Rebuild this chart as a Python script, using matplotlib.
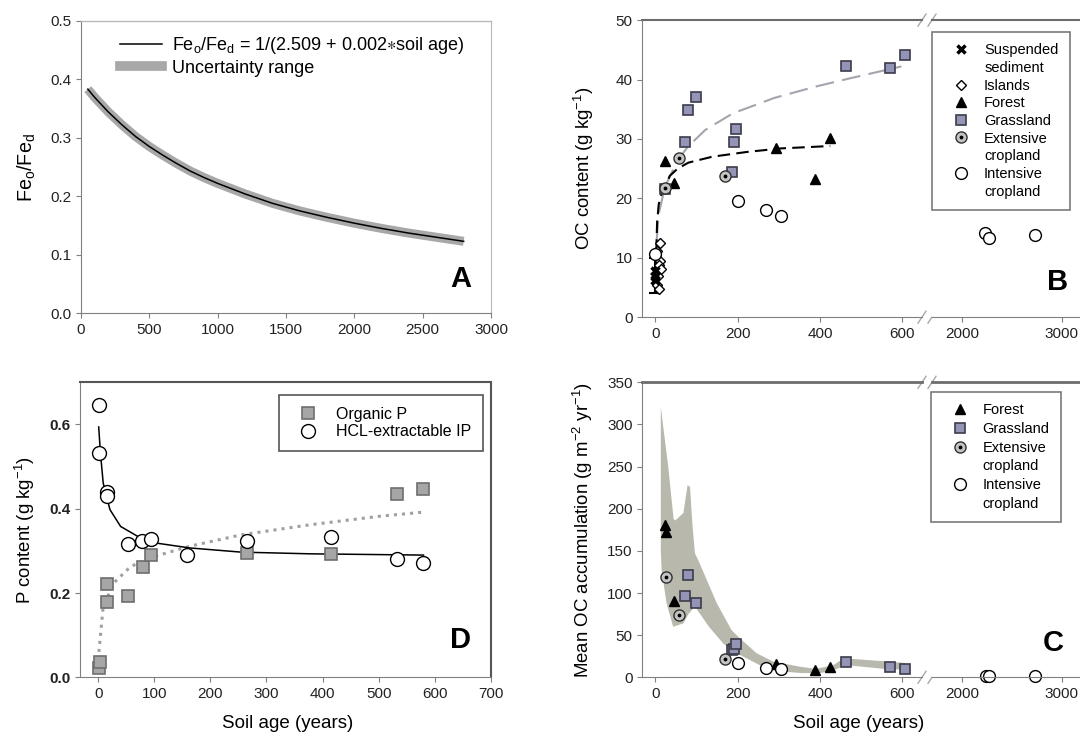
import numpy as np
import matplotlib.pyplot as plt
from matplotlib.lines import Line2D
from matplotlib.legend_handler import HandlerTuple

plt.rcParams['font.family'] = ['Liberation Sans', 'DejaVu Sans']
plt.rcParams['mathtext.default'] = 'regular'
plt.rcParams['xtick.labelsize'] = 11
plt.rcParams['ytick.labelsize'] = 11
plt.rcParams['axes.labelsize'] = 13.4

# ---- panel A: Feo/Fed vs soil age
a_age = [50, 100, 200, 300, 400, 500, 600, 700, 800, 900, 1000, 1200, 1400, 1600, 1800, 2000, 2200, 2400, 2600, 2800]
a_ratio = [0.383, 0.369, 0.344, 0.322, 0.302, 0.285, 0.270, 0.256, 0.243, 0.232, 0.222, 0.204, 0.188, 0.175, 0.164, 0.154, 0.145, 0.137, 0.130, 0.123]

# ---- panel B: OC content
b_sed_age = [0, 0, 0]
b_sed_oc = [7.8, 7.0, 6.2]
b_sed_err_age, b_sed_err_mean, b_sed_err = 0, 7.0, 3.0
b_isl_age = [10, 4, 12, 8, 14, 6, 3, 9]
b_isl_oc = [12.5, 11.2, 9.5, 8.8, 8.1, 7.0, 5.4, 4.8]
b_for_age = [23, 44, 293, 387, 425]
b_for_oc = [26.2, 22.6, 28.5, 23.2, 30.2]
b_gra_age = [23, 72, 79, 98, 185, 190, 197, 463, 570, 607]
b_gra_oc = [21.6, 29.4, 34.9, 37.0, 24.5, 29.4, 31.7, 42.2, 41.9, 44.2]
b_ext_age = [23, 58, 169]
b_ext_oc = [21.8, 26.8, 23.8]
b_int_age = [201, 268, 304, 0, 2231, 2276, 2731]
b_int_oc = [19.6, 18.1, 17.1, 10.6, 14.1, 13.3, 13.9]
b_fit1_age = [2, 4, 8, 15, 23, 35, 54, 80, 138, 222, 305, 425]
b_fit1_oc = [11.0, 16.0, 19.0, 20.8, 22.0, 23.8, 25.0, 26.0, 27.0, 27.8, 28.4, 28.8]
b_fit2_age = [3, 8, 23, 54, 79, 121, 188, 289, 389, 473, 598]
b_fit2_oc = [13.0, 17.4, 21.9, 26.4, 28.7, 31.5, 34.3, 36.9, 38.8, 40.2, 42.2]

# ---- panel C: mean OC accumulation
c_for_age = [23, 25, 44, 293, 387, 425]
c_for_acc = [181, 172, 90, 16, 8.7, 12.6]
c_gra_age = [79, 72, 98, 185, 190, 197, 463, 570, 607]
c_gra_acc = [121, 96, 88, 32, 34, 40, 18.6, 12, 10]
c_ext_age = [25, 58, 169]
c_ext_acc = [119, 73.5, 22]
c_int_age = [201, 268, 304, 2240, 2276, 2731]
c_int_acc = [17.4, 11.5, 9.5, 1, 1, 1]
c_band_up_age = [13, 19, 31, 44, 48, 68, 78, 84, 90, 96, 104, 149, 185, 193, 206, 246, 287, 351, 389, 431, 456, 473, 556, 607]
c_band_up = [321, 297, 250, 188, 186, 195, 228, 226, 180, 147, 139, 88, 56, 52, 46, 28.5, 18.5, 12.6, 10, 14, 22, 22, 19, 17]
c_band_lo_age = [13, 15, 27, 43, 68, 80, 96, 130, 165, 200, 263, 305, 356, 400, 431, 456, 473, 556, 607]
c_band_lo = [150, 127, 88, 60, 64, 75, 84, 60, 40, 28, 12, 7, 5, 5, 8, 13, 14, 10, 9]

# ---- panel D: P content
d_orgp_age = [2, 3, 15, 15, 54, 80, 95, 266, 415, 532, 580]
d_orgp = [0.021, 0.037, 0.222, 0.178, 0.193, 0.262, 0.291, 0.295, 0.293, 0.436, 0.448]
d_hcl_age = [2, 2, 15, 15, 54, 79, 95, 159, 266, 415, 532, 580]
d_hcl = [0.646, 0.533, 0.439, 0.431, 0.316, 0.324, 0.329, 0.291, 0.323, 0.333, 0.281, 0.271]
d_fit_hcl_age = [1, 4, 9, 21, 40, 71, 101, 163, 255, 378, 580]
d_fit_hcl = [0.594, 0.533, 0.461, 0.398, 0.358, 0.334, 0.319, 0.307, 0.297, 0.293, 0.290]
d_fit_org_age = [0, 9, 28, 58, 101, 163, 255, 378, 501, 580]
d_fit_org = [0.041, 0.168, 0.224, 0.263, 0.287, 0.311, 0.338, 0.362, 0.382, 0.392]

GRA_FACE, GRA_EDGE = '#9494b6', '#3c3c4c'
TICKC = '#222222'
W, H = 1080, 738

fig = plt.figure(figsize=(10.8, 7.38), dpi=100, facecolor='white')


def px(x0, y_top, x1, y_bot):
    return [x0 / W, 1 - y_bot / H, (x1 - x0) / W, (y_bot - y_top) / H]


def style(ax, top='#b8b8b8', right='#b8b8b8', toplw=1.0):
    for s in ('left', 'bottom'):
        ax.spines[s].set_color('#808080')
    ax.spines['top'].set_color(top)
    ax.spines['top'].set_linewidth(toplw)
    ax.spines['right'].set_color(right)
    ax.tick_params(direction='out', length=3.5, color='#808080', labelcolor=TICKC)


# ===================== A
axA = fig.add_axes(px(81, 20.7, 491, 313.3))
axA.plot(a_age, a_ratio, color='#a8a8a8', lw=6.5, solid_capstyle='butt')
axA.plot(a_age, a_ratio, color='black', lw=1.1)
axA.set_xlim(0, 3000)
axA.set_ylim(0, 0.5)
axA.set_yticks([0, 0.1, 0.2, 0.3, 0.4, 0.5])
axA.set_yticklabels(['0.0', '0.1', '0.2', '0.3', '0.4', '0.5'])
axA.set_ylabel('Fe$_o$/Fe$_d$', fontsize=14.2, labelpad=9)
style(axA)
hA = [Line2D([], [], color='black', lw=1.1), Line2D([], [], color='#a8a8a8', lw=7)]
axA.legend(hA, [r'Fe$_o$/Fe$_d$ = 1/(2.509 + 0.002$\ast$soil age)', 'Uncertainty range'],
           loc='upper left', bbox_to_anchor=(120.4 / W, 1 - 35 / H), bbox_transform=fig.transFigure,
           frameon=False, fontsize=13, handlelength=2.3, handletextpad=0.57, labelspacing=0.2,
           borderpad=0, borderaxespad=0)

# ===================== broken axes helper
XL, XR = (-32, 648), (1701, 3182)


def breakmarks(ax):
    w = 922 - 642.3
    h = ax.get_position().height * H
    for yy in (0, 1):
        for dx in (0, 10):
            x0 = 1 + dx / w
            ax.plot([x0 - 4 / w, x0 + 4 / w], [yy - 6 / h, yy + 6 / h], transform=ax.transAxes,
                    color='#a8a8a8', lw=1, clip_on=False)


def scatter_sets(ax, sets):
    for xs, ys, kw in sets:
        ax.plot(xs, ys, ls='none', **kw)


tri = dict(marker='^', color='black', ms=7.5)
sq = dict(marker='s', mfc=GRA_FACE, mec=GRA_EDGE, ms=7.5, mew=1.2)
ext = dict(marker='o', mfc='#c4c4c4', mec='#303030', ms=8, mew=1)
dot = dict(marker='.', color='black', ms=3.5)
opn = dict(marker='o', mfc='white', mec='black', ms=8.5, mew=1)
dia = dict(marker='D', mfc='white', mec='black', ms=5, mew=1)
crs = dict(marker='x', color='black', ms=6, mew=2.5)

# ===================== B
axBl = fig.add_axes(px(642.3, 20.1, 922, 317.1))
axBr = fig.add_axes(px(932, 20.1, 1080, 317.1))
for ax in (axBl, axBr):
    ax.set_ylim(0, 50)
axBl.set_xlim(*XL)
axBr.set_xlim(*XR)
axBl.plot(b_fit2_age, b_fit2_oc, color='#a4a4ae', lw=1.5, dashes=(9, 4))
axBl.plot(b_fit1_age, b_fit1_oc, color='black', lw=1.5, dashes=(6, 3))
axBl.errorbar([b_sed_err_age], [b_sed_err_mean], yerr=[b_sed_err], fmt='none', ecolor='black',
              elinewidth=1.5, capsize=4, capthick=1.5)
scatter_sets(axBl, [(b_isl_age, b_isl_oc, dia), (b_sed_age, b_sed_oc, crs),
                    (b_for_age, b_for_oc, tri), (b_gra_age, b_gra_oc, sq),
                    (b_ext_age, b_ext_oc, ext), (b_ext_age, b_ext_oc, dot)])
left_int = [(a, o) for a, o in zip(b_int_age, b_int_oc) if a < 1000]
right_int = [(a, o) for a, o in zip(b_int_age, b_int_oc) if a > 1000]
axBl.plot([p[0] for p in left_int], [p[1] for p in left_int], ls='none', **opn)
axBr.plot([p[0] for p in right_int], [p[1] for p in right_int], ls='none', **opn)
axBl.set_xticks([0, 200, 400, 600])
axBr.set_xticks([2000, 3000])
axBl.set_yticks(range(0, 51, 10))
axBl.set_ylabel('OC content (g kg$^{-1}$)', labelpad=14)
for ax in (axBl, axBr):
    style(ax, top='#6c6c6c', right='none', toplw=1.5)
    ax.spines['right'].set_visible(False)
axBr.spines['left'].set_visible(False)
axBr.tick_params(axis='y', left=False, labelleft=False)
breakmarks(axBl)

blank = Line2D([], [], ls='none')
h_for = Line2D([], [], ls='none', **tri)
h_gra = Line2D([], [], ls='none', **sq)
h_ext = (Line2D([], [], ls='none', **ext), Line2D([], [], ls='none', **dot))
h_int = Line2D([], [], ls='none', **opn)
hB = [Line2D([], [], ls='none', **crs), blank, Line2D([], [], ls='none', **dia), h_for, h_gra,
      h_ext, blank, h_int, blank]
lB = ['Suspended', 'sediment', 'Islands', 'Forest', 'Grassland', 'Extensive', 'cropland',
      'Intensive', 'cropland']
legkw = dict(loc='upper left', fontsize=10.5, handler_map={tuple: HandlerTuple(ndivide=1)},
             fancybox=False, edgecolor='#7a7a7a', framealpha=1, handletextpad=0.35,
             borderpad=0.8, handlelength=2.4, borderaxespad=0)
legB = fig.legend(hB, lB, bbox_to_anchor=(932.3 / W, 1 - 31.7 / H), labelspacing=0.25, **legkw)
legB.get_frame().set_linewidth(1.2)

# ===================== C
axCl = fig.add_axes(px(642.3, 382.3, 922, 677.3))
axCr = fig.add_axes(px(932, 382.3, 1080, 677.3))
for ax in (axCl, axCr):
    ax.set_ylim(0, 350)
axCl.set_xlim(*XL)
axCr.set_xlim(*XR)
axCl.fill(list(c_band_up_age) + list(c_band_lo_age[::-1]), list(c_band_up) + list(c_band_lo[::-1]),
          color='#b8b8ac', lw=0)
scatter_sets(axCl, [(c_for_age, c_for_acc, tri), (c_gra_age, c_gra_acc, sq),
                    (c_ext_age, c_ext_acc, ext), (c_ext_age, c_ext_acc, dot)])
c_left = [(a, o) for a, o in zip(c_int_age, c_int_acc) if a < 1000]
c_right = [(a, o) for a, o in zip(c_int_age, c_int_acc) if a > 1000]
axCl.plot([p[0] for p in c_left], [p[1] for p in c_left], ls='none', **opn)
axCr.plot([p[0] for p in c_right], [p[1] for p in c_right], ls='none', clip_on=False, **opn)
axCl.set_xticks([0, 200, 400, 600])
axCr.set_xticks([2000, 3000])
axCl.set_yticks(range(0, 351, 50))
axCl.set_ylabel('Mean OC accumulation (g m$^{-2}$ yr$^{-1}$)', labelpad=9)
for ax in (axCl, axCr):
    style(ax, top='#6c6c6c', right='none', toplw=2)
    ax.spines['right'].set_visible(False)
axCr.spines['left'].set_visible(False)
axCr.tick_params(axis='y', left=False, labelleft=False)
breakmarks(axCl)
fig.text(859 / W, 1 - 724 / H, 'Soil age (years)', ha='center', va='center', fontsize=13.5)

hC = [h_for, h_gra, h_ext, blank, h_int, blank]
lC = ['Forest', 'Grassland', 'Extensive', 'cropland', 'Intensive', 'cropland']
legC = fig.legend(hC, lC, bbox_to_anchor=(930.9 / W, 1 - 391.7 / H), labelspacing=0.32, **legkw)
legC.get_frame().set_linewidth(1.2)

# ===================== D
axD = fig.add_axes(px(80.2, 382.3, 490.8, 677.3))
sqD = dict(marker='s', mfc='#a6a6a6', mec='#6e6e6e', ms=9, mew=1.2)
opD = dict(marker='o', mfc='white', mec='black', ms=10, mew=1)
axD.plot(d_fit_org_age, d_fit_org, color='#a0a0a0', lw=2.2, ls=':')
axD.plot(d_fit_hcl_age, d_fit_hcl, color='black', lw=1.1)
axD.plot(d_orgp_age, d_orgp, ls='none', **sqD)
axD.plot(d_hcl_age, d_hcl, ls='none', **opD)
axD.set_xlim(-32, 700)
axD.set_ylim(0, 0.70)
axD.set_xticks(range(0, 701, 100))
axD.set_yticks([0, 0.2, 0.4, 0.6])
axD.set_yticklabels(['0.0', '0.2', '0.4', '0.6'], fontweight='bold')
axD.set_ylabel('P content (g kg$^{-1}$)', labelpad=9)
style(axD, top='#555555', right='#555555', toplw=1.5)
axD.spines['right'].set_linewidth(1.5)
fig.text(288 / W, 1 - 724 / H, 'Soil age (years)', ha='center', va='center', fontsize=13.5)
hD = [Line2D([], [], ls='none', **sqD), Line2D([], [], ls='none', **opD)]
legD = axD.legend(hD, ['Organic P', 'HCL-extractable IP'], loc='upper left',
                  bbox_to_anchor=(278.9 / W, 1 - 395 / H), bbox_transform=fig.transFigure,
                  fontsize=11.5, fancybox=False, edgecolor='#555555', framealpha=1,
                  handletextpad=0.63, borderpad=0.74, handlelength=2.2, labelspacing=0.15,
                  borderaxespad=0)
legD.get_frame().set_linewidth(1.2)

# panel letters
for x, y, t in [(461, 279, 'A'), (1058, 282, 'B'), (461, 640, 'D'), (1053, 643, 'C')]:
    fig.text(x / W, 1 - y / H, t, ha='center', va='center', fontsize=21, fontweight='bold')

fig.savefig('out.png', dpi=100, facecolor='white')
